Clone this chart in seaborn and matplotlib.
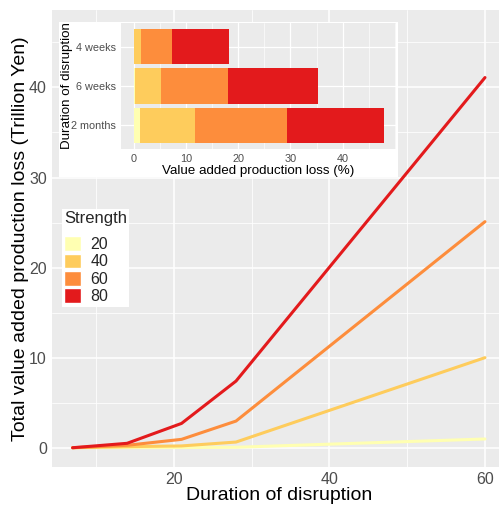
import matplotlib
matplotlib.use("Agg")
import matplotlib.pyplot as plt
from matplotlib.patches import Patch
from matplotlib.ticker import FixedLocator, MultipleLocator
import pandas as pd
import seaborn as sns

# ── data ──────────────────────────────────────────────────────────────────────
days = [7, 14, 21, 28, 60]
loss_20 = [0.0, 0.01, 0.02, 0.05, 0.97]
loss_40 = [0.0, 0.12, 0.20, 0.63, 10.0]
loss_60 = [0.0, 0.27, 0.93, 2.96, 25.1]
loss_80 = [0.0, 0.49, 2.70, 7.40, 41.1]

durations = ["4 weeks", "6 weeks", "2 months"]
pct_20 = [0.12, 0.3, 1.15]
pct_40 = [1.5, 5.3, 11.7]
pct_60 = [7.3, 18.1, 29.3]
pct_80 = [18.3, 35.3, 47.8]

strengths = ["20", "40", "60", "80"]
colors = ["#FFFFB2", "#FECC5C", "#FD8D3C", "#E31A1C"]
palette = dict(zip(strengths, colors))

lines_df = pd.concat([
    pd.DataFrame({"days": days, "loss": vals, "Strength": s})
    for s, vals in zip(strengths, [loss_20, loss_40, loss_60, loss_80])
])
bars_df = pd.concat([
    pd.DataFrame({"duration": durations, "pct": vals, "Strength": s})
    for s, vals in zip(strengths, [pct_20, pct_40, pct_60, pct_80])
])

# ── style ─────────────────────────────────────────────────────────────────────
sns.set_theme(style="darkgrid", rc={
    "axes.facecolor": "#EBEBEB",
    "grid.color": "white",
    "axes.edgecolor": "none",
})
plt.rcParams["font.family"] = ["Liberation Sans", "DejaVu Sans"]

W, H = 499, 505
fig = plt.figure(figsize=(W / 100, H / 100), dpi=100)


def px_rect(x0, y0, x1, y1):
    # pixel box (top-left origin) -> figure fraction
    return [x0 / W, 1 - y1 / H, (x1 - x0) / W, (y1 - y0) / H]


# ── main panel ────────────────────────────────────────────────────────────────
ax = fig.add_axes(px_rect(52, 10, 505.6, 467))
sns.lineplot(data=lines_df, x="days", y="loss", hue="Strength",
             hue_order=strengths, palette=palette, linewidth=2.2,
             legend=False, ax=ax)
ax.set_xlim(4.35, 62.65)
ax.set_ylim(-2.14, 48.6)
ax.xaxis.set_major_locator(FixedLocator([20, 40, 60]))
ax.xaxis.set_minor_locator(MultipleLocator(10))
ax.yaxis.set_major_locator(FixedLocator([0, 10, 20, 30, 40]))
ax.yaxis.set_minor_locator(MultipleLocator(5))
ax.grid(which="major", color="white", linewidth=1.1)
ax.grid(which="minor", color="white", linewidth=0.55)
ax.tick_params(which="major", length=2.75, width=0.8, color="#333333",
               labelsize=11.5, labelcolor="#4D4D4D", pad=1)
ax.tick_params(which="minor", length=0)
ax.set_xlabel("Duration of disruption", fontsize=14, color="black", labelpad=0)
ax.set_ylabel("Total value added production loss (Trillion Yen)",
              fontsize=14, color="black", labelpad=0)

handles = [Patch(facecolor=c, edgecolor="white", linewidth=1.0) for c in colors]
leg = ax.legend(handles, strengths, title="Strength", loc="upper left",
                bbox_to_anchor=(61.5 / W, 1 - 209 / H),
                bbox_transform=fig.transFigure, borderaxespad=0,
                fontsize=11.5, title_fontsize=12,
                frameon=True, facecolor="white", edgecolor="none",
                fancybox=False, framealpha=1,
                handlelength=1.05, handleheight=1.05, handletextpad=0.6,
                labelspacing=0.1, borderpad=0.15, alignment="left")
leg._legend_box.sep = 7  # gap between title and keys

# ── inset ─────────────────────────────────────────────────────────────────────
box = fig.add_axes(px_rect(59, 21.5, 398, 176.5))
box.set_facecolor("white")
box.set_xticks([])
box.set_yticks([])
box.grid(False)

ins = fig.add_axes(px_rect(121, 23, 396, 149))
sns.barplot(data=bars_df, y="duration", x="pct", hue="Strength",
            hue_order=strengths[::-1], palette=palette, order=durations,
            dodge=False, width=0.9, linewidth=0, saturation=1,
            legend=False, ax=ins)
ins.set_xlim(-2.39, 50.19)
ins.set_ylim(2.6, -0.6)
ins.xaxis.set_major_locator(FixedLocator([0, 10, 20, 30, 40]))
ins.xaxis.set_minor_locator(MultipleLocator(5))
ins.grid(which="major", color="white", linewidth=0.9)
ins.grid(which="minor", color="white", linewidth=0.45)
ins.tick_params(which="major", length=2, width=0.6, color="#333333",
                labelsize=7.8, labelcolor="#4D4D4D", pad=1.5)
ins.tick_params(which="minor", length=0)
ins.set_xlabel("Value added production loss (%)", fontsize=9.6,
               color="black", labelpad=0.5)
ins.set_ylabel("Duration of disruption", fontsize=9.6, color="black",
               labelpad=-1)

fig.savefig("out.png", dpi=100)
